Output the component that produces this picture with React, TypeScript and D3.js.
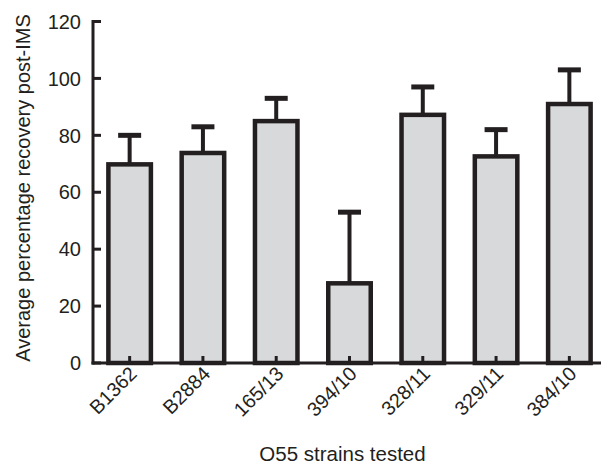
import React from "react";
import * as d3 from "d3";

const categories = ["B1362", "B2884", "165/13", "394/10", "328/11", "329/11", "384/10"];
const means = [69.8, 73.8, 85, 28, 87.2, 72.6, 91];
const upper = [80, 83, 93, 53, 97, 82, 103];
const yTicks = [0, 20, 40, 60, 80, 100, 120];

const W = 601;
const H = 465;
const INK = "#231f20";
const FONT = "'Liberation Sans', Arial, Helvetica, sans-serif";

export default function App() {
  const y = d3.scaleLinear().domain([0, 120]).range([363, 21.5]);
  const x = d3
    .scaleBand<string>()
    .domain(categories)
    .range([93, 606])
    .paddingInner(0.42)
    .paddingOuter(0.21);
  const bw = x.bandwidth();
  const y0 = y(0);

  return (
    <div style={{ position: "absolute", left: 0, top: 0 }}>
      <svg width={W} height={H} style={{ display: "block", background: "#fff" }}>
        {categories.map((c, i) => {
          const bx = x(c)!;
          const cx = bx + bw / 2;
          return (
            <g key={c}>
              <line x1={cx} x2={cx} y1={y(means[i])} y2={y(upper[i])} stroke={INK} strokeWidth={4} />
              <line x1={cx - 11.5} x2={cx + 11.5} y1={y(upper[i])} y2={y(upper[i])} stroke={INK} strokeWidth={5} />
              <rect
                x={bx}
                y={y(means[i])}
                width={bw}
                height={y0 - y(means[i])}
                fill="#d8d9da"
                stroke={INK}
                strokeWidth={4.5}
              />
              <line x1={cx} x2={cx} y1={y0} y2={y0 - 7} stroke={INK} strokeWidth={3} />
              <text
                transform={`translate(${cx + 8.5},${y0 + 12}) rotate(-45)`}
                textAnchor="end"
                fontFamily={FONT}
                fontSize={19.8}
                fill={INK}
              >
                {c}
              </text>
            </g>
          );
        })}
        <line x1={93} x2={93} y1={y(120) - 1.5} y2={y0 + 1.5} stroke={INK} strokeWidth={3} />
        <line x1={91.5} x2={W} y1={y0} y2={y0} stroke={INK} strokeWidth={3} />
        {yTicks.map((t) => (
          <g key={t}>
            <line x1={93} x2={101} y1={y(t)} y2={y(t)} stroke={INK} strokeWidth={3} />
            <text
              x={81}
              y={y(t)}
              dy="0.36em"
              textAnchor="end"
              fontFamily={FONT}
              fontSize={20}
              fill={INK}
            >
              {t}
            </text>
          </g>
        ))}
        <text
          transform="translate(30,188) rotate(-90)"
          textAnchor="middle"
          fontFamily={FONT}
          fontSize={20}
          fill={INK}
        >
          Average percentage recovery post-IMS
        </text>
        <text x={342.5} y={460.7} textAnchor="middle" fontFamily={FONT} fontSize={20.5} fill={INK}>
          O55 strains tested
        </text>
      </svg>
    </div>
  );
}
